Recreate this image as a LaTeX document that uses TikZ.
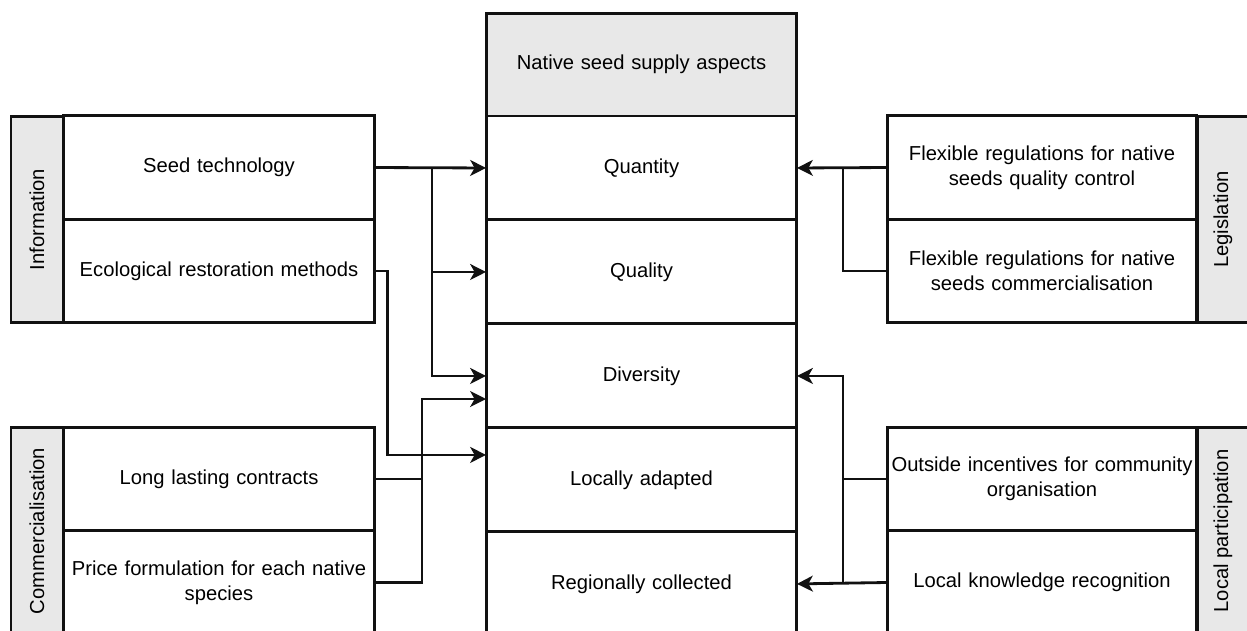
\documentclass[tikz,border=0pt]{standalone}
\usepackage{fontspec}
\setmainfont{Liberation Sans}
\usetikzlibrary{arrows.meta, positioning, calc}
\definecolor{stripgray}{RGB}{232,232,232}
\definecolor{linegray}{RGB}{17,17,17}

\begin{document}
\begin{tikzpicture}[
  x=0.02cm, y=-0.02cm,
  font=\fontsize{11.5}{14}\selectfont,
  every node/.style={align=center},
  aspect/.style={draw=linegray, line width=1.7pt, outer sep=0pt, inner sep=1pt,
                 minimum width=6.22cm, minimum height=2.08cm, text width=6.1cm},
  header/.style={aspect, fill=stripgray, minimum height=2.06cm},
  factor/.style={draw=linegray, line width=1.7pt, outer sep=0pt, inner sep=0pt,
                 minimum width=6.22cm, minimum height=2.07cm, text width=6.2cm},
  strip/.style={draw=linegray, fill=stripgray, line width=1.7pt, rotate=90,
                minimum width=4.14cm, minimum height=1.04cm, inner sep=1pt},
  arr/.style={-{Stealth[length=9pt, width=9pt, inset=2.5pt]}, draw=linegray, line width=1.6pt},
  link/.style={draw=linegray, line width=1.6pt},
]
\useasboundingbox (0,0) rectangle (1247,630);
\clip (0,0) rectangle (1247,630);

%% Central column: supply aspects
\node[header] (hdr) at (641.5, 64.5) {Native seed supply aspects};
\node[aspect, below=0pt of hdr] (qty)  {Quantity};
\node[aspect, below=0pt of qty]  (qual) {Quality};
\node[aspect, below=0pt of qual] (div)  {Diversity};
\node[aspect, below=0pt of div]  (loc)  {Locally adapted};
\node[aspect, below=0pt of loc]  (regl) {Regionally collected};

%% Left groups
\node[factor] (seed) at (219, 167.5) {Seed technology};
\node[factor, below=0pt of seed] (eco) {Ecological restoration methods};
\node[strip] (info) at (37, 219.5) {Information};

\node[factor] (lng) at (219, 479) {Long lasting contracts};
\node[factor, below=0pt of lng] (price) {Price formulation for each native\\species};
\node[strip] (comm) at (37, 531) {Commercialisation};

%% Right groups
\node[factor, minimum width=6.2cm] (regq) at (1042, 167.5)
  {Flexible regulations for native\\seeds quality control};
\node[factor, minimum width=6.2cm, below=0pt of regq] (regc)
  {Flexible regulations for native\\seeds commercialisation};
\node[strip] (legis) at (1223, 219.5) {Legislation};

\node[factor, minimum width=6.2cm] (inc) at (1042, 479)
  {Outside incentives for community\\organisation};
\node[factor, minimum width=6.2cm, below=0pt of inc] (know)
  {Local knowledge recognition};
\node[strip] (locp) at (1223, 531) {Local participation};

%% Arrows: left side
\coordinate (jseed) at (432, 167.5);
\coordinate (jcomm) at (422, 399);
\draw[arr] (seed.east) -- (qty.west);
\draw[arr] (jseed) |- (qual.west);
\draw[arr] (jseed) |- (div.west);
\draw[arr] (eco.east) -- ++(13,0) |- ($(loc.west)+(0,-25)$);
\draw[arr] (lng.east) -| (jcomm) -- (jcomm -| div.west);
\draw[link] (price.east) -| (jcomm);

%% Arrows: right side
\coordinate (jleg) at (843, 167.5);
\coordinate (jloc) at (843, 582);
\draw[arr] (regq.west) -- (qty.east);
\draw[link] (regc.west) -| (jleg);
\draw[arr] (know.west) -- (regl.east);
\draw[arr] (jloc) |- (div.east);
\draw[link] (inc.west) -- (inc.west -| jloc);

\end{tikzpicture}
\end{document}
